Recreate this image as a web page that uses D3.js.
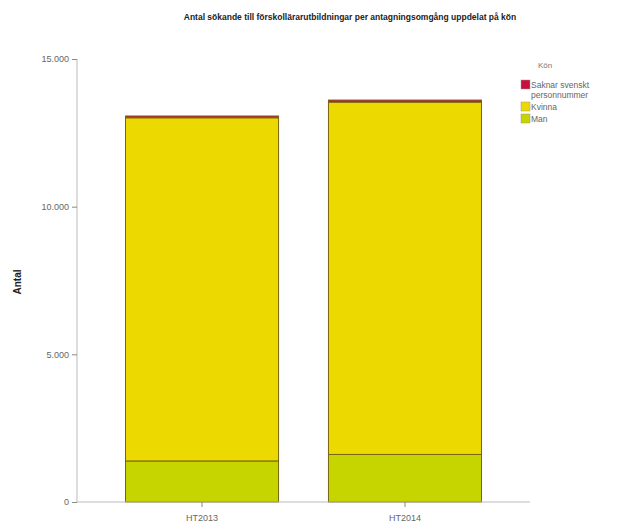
<!DOCTYPE html>
<html><head><meta charset="utf-8">
<script src="https://cdn.jsdelivr.net/npm/d3@7"></script>
<style>body{margin:0;background:#fff}svg{font-family:"Liberation Sans",Arial,sans-serif}</style>
</head><body><svg id="c" width="618" height="524"></svg>
<script>
const categories = ["HT2013", "HT2014"];
const seriesNames = ["Man", "Kvinna", "Saknar svenskt personnummer"];
const man = [1390, 1610];
const kvinna = [11620, 11930];
const saknar = [60, 70];
const yTicks = [0, 5000, 10000, 15000];
const tickLabels = ["0", "5.000", "10.000", "15.000"];
const colors = ["#c6d400", "#ecd900", "#c8103e"];

const svg = d3.select("#c");
const x = d3.scaleBand().domain(categories).range([77, 530]).paddingInner(0.246).paddingOuter(0.239);
const y = d3.scaleLinear().domain([0, 15000]).range([502, 59]);

svg.append("text").attr("x", 350).attr("y", 20).attr("text-anchor", "middle")
  .attr("font-size", 8.5).attr("font-weight", "bold").attr("fill", "#222")
  .text("Antal sökande till förskollärarutbildningar per antagningsomgång uppdelat på kön");

const rows = categories.map((c, i) => ({cat: c, Man: man[i], Kvinna: kvinna[i], "Saknar svenskt personnummer": saknar[i]}));
const stack = d3.stack().keys(seriesNames)(rows);
stack.forEach((s, k) => {
  svg.append("g").selectAll("rect").data(s).join("rect")
    .attr("x", d => x(d.data.cat)).attr("width", x.bandwidth())
    .attr("y", d => y(d[1])).attr("height", d => y(d[0]) - y(d[1]))
    .attr("fill", colors[k]).attr("stroke", "#7a6410").attr("stroke-width", 1);
});

// axes
const ya = svg.append("g").attr("transform", "translate(77,0)")
  .call(d3.axisLeft(y).tickValues(yTicks).tickSize(5).tickFormat((d, i) => tickLabels[i]));
ya.select(".domain").attr("stroke", "#bbb").attr("d", "M0,59V502");
ya.selectAll(".tick line").attr("stroke", "#888");
ya.selectAll("text").attr("font-size", 9).attr("fill", "#666").attr("x", -8).attr("font-family", "Liberation Sans, Arial, sans-serif");

const xa = svg.append("g").attr("transform", "translate(0,502)")
  .call(d3.axisBottom(x).tickSize(5));
xa.select(".domain").attr("stroke", "#bbb").attr("d", "M77,0H530");
xa.selectAll(".tick line").attr("stroke", "#888");
xa.selectAll("text").attr("font-size", 9).attr("fill", "#666").attr("dy", "1.2em").attr("font-family", "Liberation Sans, Arial, sans-serif");

svg.append("text").attr("transform", "translate(21,282) rotate(-90)").attr("text-anchor", "middle")
  .attr("font-size", 10).attr("font-weight", "bold").attr("fill", "#222").text("Antal");

// legend
const lg = svg.append("g");
lg.append("text").attr("x", 538).attr("y", 68).attr("font-size", 8).attr("fill", "#777").text("Kön");
const legendItems = [
  {name: ["Saknar svenskt", "personnummer"], c: colors[2], y: 80},
  {name: ["Kvinna"], c: colors[1], y: 102},
  {name: ["Man"], c: colors[0], y: 114}
];
legendItems.forEach(it => {
  lg.append("rect").attr("x", 521).attr("y", it.y).attr("width", 9).attr("height", 9)
    .attr("fill", it.c).attr("stroke", "#999").attr("stroke-width", 0.5);
  it.name.forEach((t, j) => lg.append("text").attr("x", 531).attr("y", it.y + 8 + j * 10)
    .attr("font-size", 8.5).attr("fill", "#666").text(t));
});
</script></body></html>
